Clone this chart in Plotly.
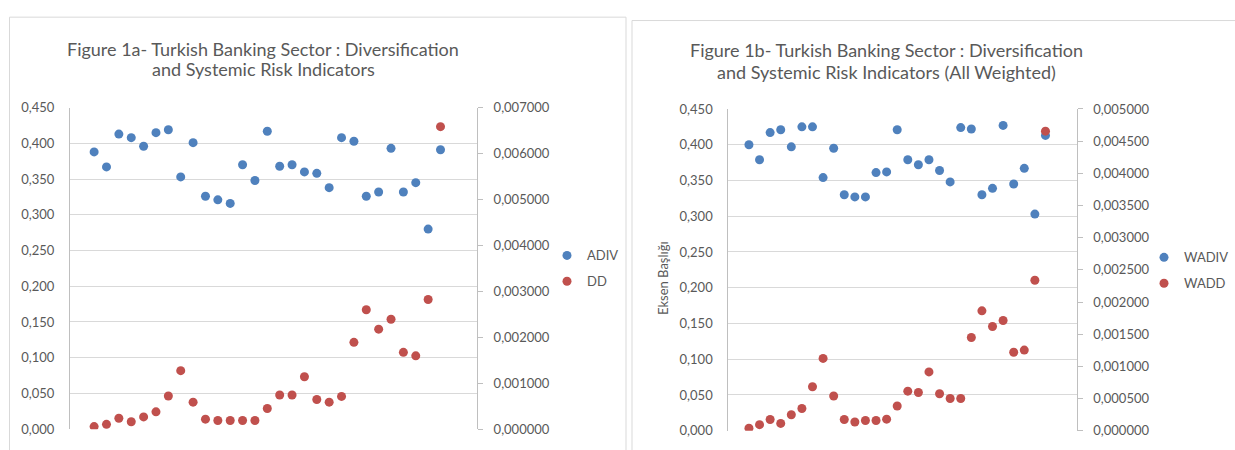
import plotly.graph_objects as go

# ---------------- data ----------------
periods = list(range(1, 30))

adiv = [0.388, 0.367, 0.413, 0.408, 0.396, 0.415, 0.419, 0.353, 0.401, 0.326,
        0.321, 0.316, 0.370, 0.348, 0.417, 0.368, 0.370, 0.360, 0.358, 0.338,
        0.408, 0.403, 0.326, 0.332, 0.393, 0.332, 0.345, 0.280, 0.391]

dd = [0.000057, 0.000105, 0.000239, 0.000162, 0.000267, 0.000378, 0.000722, 0.001274,
      0.000588, 0.000218, 0.000189, 0.000189, 0.000189, 0.000189, 0.000449, 0.000743,
      0.000743, 0.001142, 0.000645, 0.000588, 0.000714, 0.001890, 0.002600, 0.002177,
      0.002394, 0.001673, 0.001596, 0.002822, 0.006586]

wadiv = [0.400, 0.379, 0.417, 0.421, 0.397, 0.425, 0.425, 0.354, 0.395, 0.330,
         0.327, 0.327, 0.361, 0.362, 0.421, 0.379, 0.372, 0.379, 0.364, 0.348,
         0.424, 0.422, 0.330, 0.339, 0.427, 0.345, 0.367, 0.303, 0.413]

wadd = [0.000039, 0.000094, 0.000174, 0.000114, 0.000249, 0.000345, 0.000683, 0.001124,
        0.000540, 0.000174, 0.000135, 0.000159, 0.000159, 0.000180, 0.000384, 0.000615,
        0.000594, 0.000914, 0.000574, 0.000500, 0.000500, 0.001448, 0.001863, 0.001619,
        0.001713, 0.001219, 0.001253, 0.002338, 0.004655]

title_a = ["Figure 1a- Turkish Banking Sector : Diversification",
           "and Systemic Risk Indicators"]
title_b = ["Figure 1b- Turkish Banking Sector : Diversification",
           "and Systemic Risk Indicators (All Weighted)"]
names_a = ["ADIV", "DD"]
names_b = ["WADIV", "WADD"]
ytitle_b = "Eksen Başlığı"

# ---------------- styling ----------------
W, H = 1235, 450
BLUE = "#4F81BD"
RED = "#C0504D"
TXT = "#595959"
GRID = "#D9D9D9"
AXL = "#BFBFBF"
FONT = "Lato, 'Open Sans', sans-serif"


def px(x):
    return x / W


def py(y):
    return 1 - y / H


fig = go.Figure()

fig.add_trace(go.Scatter(x=periods, y=adiv, mode="markers", name=names_a[0],
                         marker=dict(color=BLUE, size=9), xaxis="x", yaxis="y",
                         legend="legend", legendgroup="a1"))
fig.add_trace(go.Scatter(x=periods, y=dd, mode="markers", name=names_a[1],
                         marker=dict(color=RED, size=9), xaxis="x", yaxis="y2",
                         legend="legend", legendgroup="a2"))
fig.add_trace(go.Scatter(x=periods, y=wadiv, mode="markers", name=names_b[0],
                         marker=dict(color=BLUE, size=9), xaxis="x2", yaxis="y3",
                         legend="legend2", legendgroup="b1"))
fig.add_trace(go.Scatter(x=periods, y=wadd, mode="markers", name=names_b[1],
                         marker=dict(color=RED, size=9), xaxis="x2", yaxis="y4",
                         legend="legend2", legendgroup="b2"))

xcommon = dict(range=[-0.95, 31.95], showgrid=False, zeroline=False,
               showticklabels=False, showline=False, fixedrange=True)
ycommon_left = dict(showgrid=True, gridcolor=GRID, gridwidth=1, zeroline=False,
                    showline=True, linecolor=AXL, linewidth=1, ticks="",
                    ticklabelstandoff=12,
                    tickfont=dict(family=FONT, size=13, color=TXT))
ycommon_right = dict(showgrid=False, zeroline=False, showline=True, linecolor=AXL,
                     linewidth=1, ticks="outside", ticklen=5, tickcolor=AXL,
                     ticklabelstandoff=8,
                     tickfont=dict(family=FONT, size=13, color=TXT))

fig.update_layout(
    width=W, height=H,
    margin=dict(l=0, r=0, t=0, b=0),
    paper_bgcolor="white", plot_bgcolor="white",
    separators=", ",
    font=dict(family=FONT, color=TXT),
    xaxis=dict(domain=[px(70), px(477)], anchor="y", **xcommon),
    yaxis=dict(domain=[py(436.7), py(103.3)], anchor="x", range=[0, 0.45],
               dtick=0.05, tickformat=".3f", **ycommon_left),
    yaxis2=dict(overlaying="y", side="right", anchor="x", range=[0, 0.007],
                dtick=0.001, tickformat=".6f", **ycommon_right),
    xaxis2=dict(domain=[px(728.3), px(1076.7)], anchor="y3", **xcommon),
    yaxis3=dict(domain=[py(438.3), py(104.7)], anchor="x2", range=[0, 0.45],
                dtick=0.05, tickformat=".3f", **ycommon_left),
    yaxis4=dict(overlaying="y3", side="right", anchor="x2", range=[0, 0.005],
                dtick=0.0005, tickformat=".6f", **ycommon_right),
    legend=dict(x=px(547), y=py(241), xanchor="left", yanchor="top",
                traceorder="grouped", tracegroupgap=6, itemwidth=30,
                font=dict(family=FONT, size=13, color=TXT), bgcolor="rgba(0,0,0,0)"),
    legend2=dict(x=px(1144), y=py(243), xanchor="left", yanchor="top",
                 traceorder="grouped", tracegroupgap=6, itemwidth=30,
                 font=dict(family=FONT, size=13, color=TXT), bgcolor="rgba(0,0,0,0)"),
    showlegend=True,
)

# panel frames
fig.add_shape(type="rect", xref="paper", yref="paper",
              x0=px(9.5), x1=px(626), y0=py(470), y1=py(9.5),
              line=dict(color=GRID, width=1), fillcolor="rgba(0,0,0,0)", layer="below")
fig.add_shape(type="rect", xref="paper", yref="paper",
              x0=px(632), x1=px(1250), y0=py(470), y1=py(13),
              line=dict(color=GRID, width=1), fillcolor="rgba(0,0,0,0)", layer="below")

# titles
for txt, xc, yc in ((title_a[0], 263, 43), (title_a[1], 263, 63),
                    (title_b[0], 886, 44), (title_b[1], 886, 66)):
    fig.add_annotation(text=txt, xref="paper", yref="paper", x=px(xc), y=py(yc),
                       xanchor="center", yanchor="middle", showarrow=False,
                       font=dict(family=FONT, size=18, color=TXT))

fig.add_annotation(text=ytitle_b, xref="paper", yref="paper", x=px(663), y=py(280),
                   xanchor="center", yanchor="middle", textangle=-90, showarrow=False,
                   font=dict(family=FONT, size=13, color=TXT))

fig.write_html(
    "out.html",
    config={"displayModeBar": False},
    post_script=(
        "var d=document.getElementById('{plot_id}');"
        "d.style.position='fixed';d.style.top='0px';d.style.left='0px';"
        "document.body.style.margin='0';"
    ),
)
